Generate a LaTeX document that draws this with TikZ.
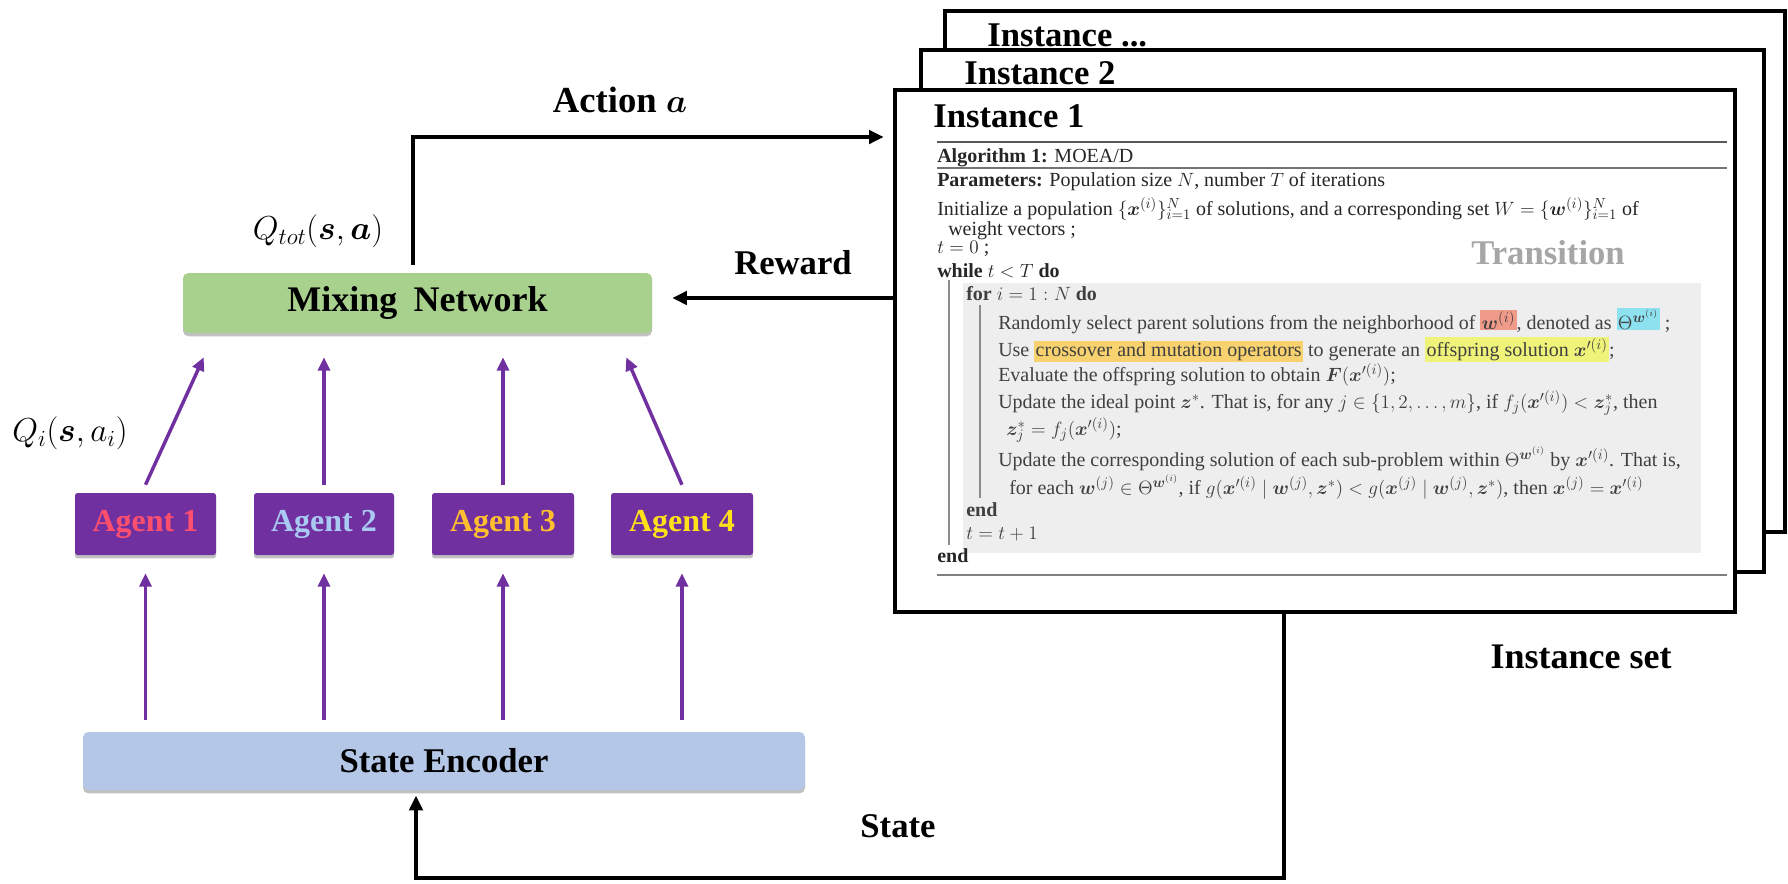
\documentclass[tikz,border=0pt]{standalone}
\usepackage{fontspec}
\setmainfont{Liberation Serif}
\usepackage{bm}
\usetikzlibrary{arrows.meta,shadows,fit}
\definecolor{purp}{HTML}{7030A0}
\definecolor{mixg}{HTML}{A9D18E}
\definecolor{encb}{HTML}{B4C7E7}
\definecolor{agA}{HTML}{FF4F6E}
\definecolor{agB}{HTML}{A9C9F2}
\definecolor{agC}{HTML}{FFBF2F}
\definecolor{agD}{HTML}{FFE119}
\definecolor{hlred}{HTML}{F09A8A}
\definecolor{hlcyan}{HTML}{8EE2F0}
\definecolor{hlorange}{HTML}{F7D26E}
\definecolor{hlyellow}{HTML}{F0F37A}
\definecolor{algbg}{HTML}{EFEEEE}
\newcommand{\hlb}[2]{{\setlength{\fboxsep}{1pt}\colorbox{#1}{#2}}}
\tikzset{
  lab/.style={inner sep=0pt, font=\fontsize{26}{30}\selectfont\bfseries},
  boxshadow/.style={drop shadow={shadow xshift=0pt,shadow yshift=-2.5pt,opacity=0.35,fill=black!70}},
  mixbox/.style={fill=mixg, rounded corners=4pt, inner sep=0pt, boxshadow},
  encbox/.style={fill=encb, rounded corners=4pt, inner sep=0pt, boxshadow},
  agentbox/.style={fill=purp, rounded corners=2pt, inner sep=0pt, boxshadow},
  agenttext/.style={inner sep=0pt, font=\fontsize{24}{28}\selectfont\bfseries},
  instbox/.style={draw=black, line width=3pt, fill=white, inner sep=0pt},
  algl/.style={anchor=base west, inner sep=0pt, font=\fontsize{15}{18}\selectfont, text=black!85},
  algin/.style={algl, text=black!75},
  blk/.style={draw=black, line width=3pt, -{Triangle[length=11pt,width=10pt]}},
  parr/.style={draw=purp, line width=2.6pt, -{Triangle[length=10pt,width=9pt]}},
}
\begin{document}
\begin{tikzpicture}[x=0.75pt,y=-0.75pt]
\useasboundingbox (0,0) rectangle (1788,883);
% instance stack
\node[instbox, fit={(945,11)(1785,532)}] (i3) {};
\node[lab, anchor=west] (i3t) at (987,35) {Instance ...};
\node[instbox, fit={(921,50)(1764,572)}] (i2) {};
\node[lab, anchor=west] (i2t) at (964,73) {Instance 2};
\node[instbox, fit={(895,90)(1735,612)}] (i1) {};
\node[lab, anchor=west] (i1t) at (933,116) {Instance 1};
% algorithm
\draw[line width=1.3pt, black!65] (937,142) -- (1727,142);
\draw[line width=1.3pt, black!55] (937,168) -- (1727,168);
\fill[algbg] (963,283) rectangle (1701,553);
\draw[line width=0.8pt, black!45] (949,280) -- (949,545);
\draw[line width=0.8pt, black!45] (980,305) -- (980,498);
\draw[line width=1.3pt, black!50] (937,575) -- (1727,575);
\node[algl] (a1) at (937,162) {\textbf{Algorithm 1:} MOEA/D};
\node[algl] (a2) at (937,186) {\textbf{Parameters:} Population size $N$, number $T$ of iterations};
\node[algl] (a3) at (937,215) {Initialize a population $\{\bm{x}^{(i)}\}_{i=1}^{N}$ of solutions, and a corresponding set $W=\{\bm{w}^{(i)}\}_{i=1}^{N}$ of};
\node[algl] (a4) at (948,235) {weight vectors ;};
\node[algl] (a5) at (937,253) {$t=0$ ;};
\node[algl] (a6) at (937,277) {\textbf{while} $t<T$ \textbf{do}};
\node[algin] (a7) at (966,300) {\textbf{for} $i=1:N$ \textbf{do}};
\node[algin] (a8) at (998,329) {Randomly select parent solutions from the neighborhood of \hlb{hlred}{$\bm{w}^{(i)}$}, denoted as \hlb{hlcyan}{$\Theta^{\bm{w}^{(i)}}$} ;};
\node[algin] (a9) at (998,356) {Use \hlb{hlorange}{crossover and mutation operators} to generate an \hlb{hlyellow}{offspring solution $\bm{x}'^{(i)}$};};
\node[algin] (a10) at (998,381) {Evaluate the offspring solution to obtain $\bm{F}(\bm{x}'^{(i)})$;};
\node[algin] (a11) at (998,408) {Update the ideal point $\bm{z}^{*}$. That is, for any $j\in\{1,2,\ldots,m\}$, if $f_j(\bm{x}'^{(i)})<\bm{z}_j^{*}$, then};
\node[algin] (a12) at (1006,435) {$\bm{z}_j^{*}=f_j(\bm{x}'^{(i)})$;};
\node[algin] (a13) at (998,466) {Update the corresponding solution of each sub-problem within $\Theta^{\bm{w}^{(i)}}$ by $\bm{x}'^{(i)}$. That is,};
\node[algin] (a14) at (1009,494) {for each $\bm{w}^{(j)}\in\Theta^{\bm{w}^{(i)}}$, if $g(\bm{x}'^{(i)}\mid\bm{w}^{(j)},\bm{z}^{*})<g(\bm{x}^{(j)}\mid\bm{w}^{(j)},\bm{z}^{*})$, then $\bm{x}^{(j)}=\bm{x}'^{(i)}$};
\node[algin] (a15) at (966,516) {\textbf{end}};
\node[algin] (a16) at (966,539) {$t=t+1$};
\node[algl] (a17) at (937,562) {\textbf{end}};
\node[lab, text=black!35] (trans) at (1548,253) {Transition};
% left side
\node[mixbox, fit={(183,273)(652,333)}] (mix) {};
\node[inner sep=0pt, font=\fontsize{27}{30}\selectfont\bfseries] (mixt) at (mix.center) {Mixing\hspace{0.45em}Network};
\node[agentbox, fit={(75,493)(216,555)}] (ag1) {};
\node[agentbox, fit={(254,493)(394,555)}] (ag2) {};
\node[agentbox, fit={(432,493)(574,555)}] (ag3) {};
\node[agentbox, fit={(611,493)(753,555)}] (ag4) {};
\node[agenttext, text=agA] (ag1t) at (ag1.center) {Agent 1};
\node[agenttext, text=agB] (ag2t) at (ag2.center) {Agent 2};
\node[agenttext, text=agC] (ag3t) at (ag3.center) {Agent 3};
\node[agenttext, text=agD] (ag4t) at (ag4.center) {Agent 4};
\node[encbox, fit={(83,732)(805,790)}] (enc) {};
\node[inner sep=0pt, font=\fontsize{26}{30}\selectfont\bfseries] (enct) at (enc.center) {State Encoder};
\node[lab, font=\fontsize{27.5}{30}\selectfont\bfseries] (act) at (620,100) {Action $\bm{a}$};
\node[inner sep=0pt, font=\fontsize{27}{30}\selectfont] (qtot) at (318,231) {$Q_{tot}(\bm{s},\bm{a})$};
\node[inner sep=0pt, font=\fontsize{25}{30}\selectfont] (qi) at (70,433) {$Q_i(\bm{s},a_i)$};
\node[lab] (rew) at (793,263) {Reward};
\node[lab] (state) at (898,826) {State};
\node[lab, font=\fontsize{27}{30}\selectfont\bfseries] (iset) at (1581,657) {Instance set};
% connectors
\coordinate (acty) at (0,137);
\coordinate (rwy) at (0,298);
\coordinate (sx) at (1284,0);
\coordinate (sb) at (416,878);
\draw[blk, shorten >=7pt] ([xshift=-3.5pt,yshift=6pt]mix.north) |- (i1.west |- acty);
\draw[blk, shorten >=15pt] (i1.west |- rwy) -- (mix.east |- rwy);
\draw[blk, shorten >=4pt] (i1.south -| sx) |- (sb) -- (sb |- enc.south);
\draw[parr] ([yshift=6pt]ag1.north) -- ([xshift=15.75pt,yshift=-18pt]mix.south west);
\draw[parr] ([yshift=6pt]ag2.north) -- ([yshift=-18pt]ag2.north |- mix.south);
\draw[parr] ([yshift=6pt]ag3.north) -- ([yshift=-18pt]ag3.north |- mix.south);
\draw[parr] ([yshift=6pt]ag4.north) -- ([xshift=-19.5pt,yshift=-18pt]mix.south east);
\foreach \a in {ag1,ag2,ag3,ag4}{
  \draw[parr] ([yshift=9pt]enc.north -| \a) -- ([yshift=-13.5pt]\a.south);
}
\end{tikzpicture}
\end{document}
